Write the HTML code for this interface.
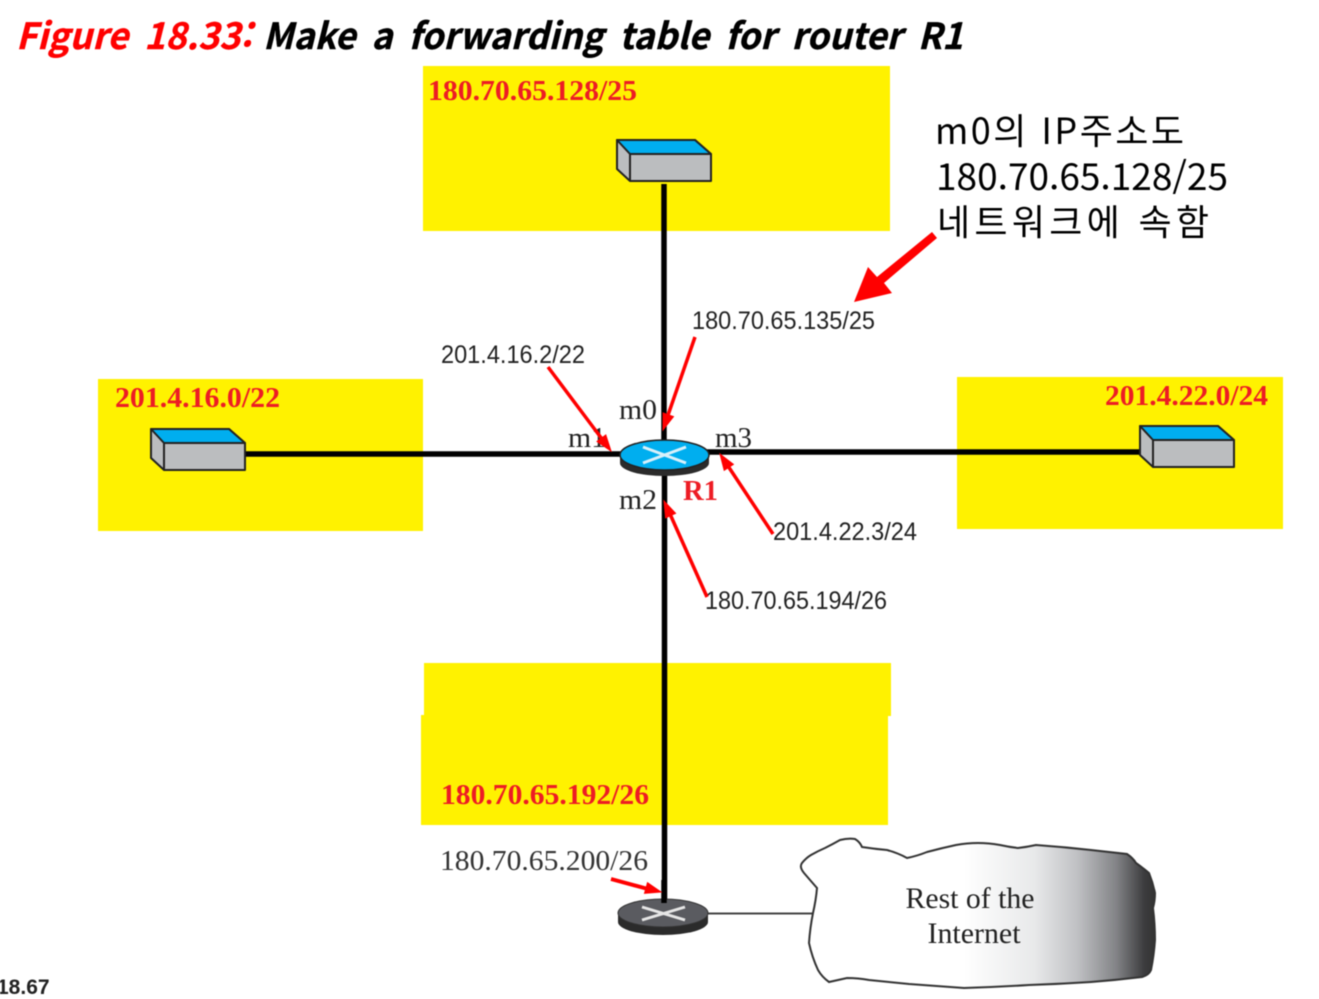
<!DOCTYPE html>
<html lang="ko">
<head>
<meta charset="utf-8">
<title>Figure 18.33</title>
<style>
html,body{margin:0;padding:0;background:#fff;width:1319px;height:999px;overflow:hidden}
svg{display:block;filter:blur(.45px)}
.ser{font-family:"Liberation Serif",serif}
.net{font-family:"Liberation Serif",serif;font-weight:bold;fill:#ED1C24;font-size:29px}
.ip{font-family:"Liberation Sans",sans-serif;fill:#222;font-size:25px}
.m{font-family:"Liberation Serif",serif;fill:#222;font-size:29px}
.ko{font-family:"Noto Sans CJK KR","Liberation Sans",sans-serif;fill:#000;font-size:36px}
.ttl{font-family:"Noto Sans CJK KR","Liberation Sans",sans-serif;font-style:italic;font-weight:bold;font-size:36px;word-spacing:6px}
</style>
</head>
<body>
<svg width="1319" height="999" viewBox="0 0 1319 999" xmlns="http://www.w3.org/2000/svg">
<defs>
<linearGradient id="cg" x1="0" y1="0" x2="1" y2="0">
<stop offset="0" stop-color="#fff"/>
<stop offset="0.46" stop-color="#fff"/>
<stop offset="0.66" stop-color="#e8e9ea"/>
<stop offset="0.78" stop-color="#c0c1c4"/>
<stop offset="0.89" stop-color="#838487"/>
<stop offset="0.97" stop-color="#3c3c3e"/>
<stop offset="1" stop-color="#333"/>
</linearGradient>
<g id="sw">
<path d="M0 0H78L94 14V41H13L0 29Z" fill="#bbbdbf" stroke="#222" stroke-width="2" stroke-linejoin="round"/>
<path d="M0 0H78L94 14H13Z" fill="#00AEEF" stroke="#222" stroke-width="2" stroke-linejoin="round"/>
<path d="M13 14V41" stroke="#222" stroke-width="2"/>
</g>
</defs>

<rect x="423" y="66" width="467" height="165" fill="#FFF200"/>
<rect x="98" y="379" width="325" height="152" fill="#FFF200"/>
<rect x="957" y="377" width="326" height="152" fill="#FFF200"/>
<rect x="424" y="663" width="467" height="53" fill="#FFF200"/>
<rect x="421" y="715" width="467" height="110" fill="#FFF200"/>

<text class="ttl" x="16" y="49" fill="#FF0000" stroke="#FF0000" stroke-width=".4" textLength="236" lengthAdjust="spacingAndGlyphs">Figure 18.33:</text>
<text class="ttl" x="263" y="49" fill="#000" stroke="#000" stroke-width=".4" textLength="700" lengthAdjust="spacingAndGlyphs">Make a forwarding table for router R1</text>

<text class="net" x="428" y="100" textLength="209" lengthAdjust="spacingAndGlyphs">180.70.65.128/25</text>
<text class="net" x="115" y="407" textLength="165" lengthAdjust="spacingAndGlyphs">201.4.16.0/22</text>
<text class="net" x="1105" y="405" textLength="163" lengthAdjust="spacingAndGlyphs">201.4.22.0/24</text>
<text class="net" x="441" y="804" textLength="208" lengthAdjust="spacingAndGlyphs">180.70.65.192/26</text>

<!-- links -->
<path d="M664 184V440" stroke="#000" stroke-width="5.500"/>
<path d="M245 454H622" stroke="#000" stroke-width="5.500"/>
<path d="M706 452H1142" stroke="#000" stroke-width="5.500"/>
<path d="M664.500 470V902" stroke="#000" stroke-width="5.500"/>
<path d="M706 913.500H815" stroke="#444" stroke-width="2"/>

<use href="#sw" x="617" y="140"/>
<use href="#sw" x="151" y="429"/>
<use href="#sw" x="1140" y="426"/>

<!-- R1 -->
<path d="M620 455V463A44.500 13 0 0 0 709 463V455Z" fill="#2b2b2b"/>
<ellipse cx="664.500" cy="455" rx="44.500" ry="15" fill="#00AEEF" stroke="#222" stroke-width="1.500"/>
<path d="M643 447L686 463M643 463L686 447" stroke="#d8f0fa" stroke-width="3"/>

<!-- Lower router -->
<path d="M618 914V922A45 13 0 0 0 708 922V914Z" fill="#2b2b2b"/>
<ellipse cx="663" cy="913" rx="45" ry="14" fill="#5a5b60" stroke="#333" stroke-width="1"/>
<path d="M642 907L685 920M642 920L685 907" stroke="#e6e6e6" stroke-width="3"/>
<path d="M664 880V903" stroke="#000" stroke-width="5.500"/>

<!-- cloud -->
<path d="M804 873Q799 867 802 863Q806 858 811 855Q818 851 825 848Q833 844 840 840Q848 838 855 839Q860 842 862 847Q875 849 887 850Q898 853 907 858Q917 856 927 852Q942 848 956 845Q967 843 978 843Q989 843 1000 845Q1009 847 1018 848Q1027 847 1036 845Q1064 847 1091 850Q1109 852 1127 854Q1133 858 1136 863Q1143 868 1149 873Q1153 883 1155 893Q1155 901 1153 908Q1155 924 1155 940Q1154 955 1151 970Q1149 975 1142 977Q1117 980 1091 982Q1060 984 1029 985Q997 987 964 988Q937 986 909 984Q889 982 869 980Q858 978 847 978Q838 980 829 982Q822 977 818 970Q812 957 809 943Q810 928 813 913Q816 900 817 888Q810 880 804 873Z" fill="url(#cg)" stroke="#333" stroke-width="2"/>
<text class="ser" x="970" y="908" text-anchor="middle" font-size="30" fill="#222" textLength="129" lengthAdjust="spacingAndGlyphs">Rest of the</text>
<text class="ser" x="974" y="943" text-anchor="middle" font-size="30" fill="#222" textLength="93" lengthAdjust="spacingAndGlyphs">Internet</text>

<text class="m" x="619" y="419" textLength="38" lengthAdjust="spacingAndGlyphs">m0</text>
<text class="m" x="568" y="447" textLength="38" lengthAdjust="spacingAndGlyphs">m1</text>
<text class="m" x="619" y="509" textLength="38" lengthAdjust="spacingAndGlyphs">m2</text>
<text class="m" x="715" y="447" textLength="37" lengthAdjust="spacingAndGlyphs">m3</text>
<text class="ser" x="683" y="500" font-size="29" font-weight="bold" fill="#ED1C24" textLength="35" lengthAdjust="spacingAndGlyphs">R1</text>

<text class="ip" x="692" y="329" textLength="183" lengthAdjust="spacingAndGlyphs">180.70.65.135/25</text>
<text class="ip" x="441" y="363" textLength="144" lengthAdjust="spacingAndGlyphs">201.4.16.2/22</text>
<text class="ip" x="773" y="540" textLength="144" lengthAdjust="spacingAndGlyphs">201.4.22.3/24</text>
<text class="ip" x="705" y="609" textLength="182" lengthAdjust="spacingAndGlyphs">180.70.65.194/26</text>
<text class="ser" x="440" y="870" font-size="29" fill="#333" textLength="208" lengthAdjust="spacingAndGlyphs">180.70.65.200/26</text>

<!-- red arrows -->
<g stroke="#FF0000" stroke-width="3.500" fill="none">
<path d="M695 337L667 418"/>
<path d="M548 367L602 439"/>
<path d="M773 534L728 466"/>
<path d="M707 597L670 514"/>
<path d="M611 879L648 889" stroke-width="4"/>
</g>
<g fill="#FF0000" stroke="#FF0000" stroke-width="1">
<path d="M663 430L673.500 416.600L663.100 413Z"/>
<path d="M611 451L605.800 434.900L597 441.500Z"/>
<path d="M720 454L733.400 464.300L724.200 470.300Z"/>
<path d="M664 501L675.600 513.300L665.600 517.900Z"/>
<path d="M661 892L644.500 893.300L647.500 882.700Z"/>
<path d="M932 232L937 238L884 283L892 293L854 302L868 267L877 277Z" stroke="none"/>
</g>

<text class="ko" x="935" y="144" textLength="249" lengthAdjust="spacing">m0의 IP주소도</text>
<text class="ko" x="936" y="190" textLength="292" lengthAdjust="spacingAndGlyphs">180.70.65.128/25</text>
<text class="ko" x="937" y="235" textLength="272" lengthAdjust="spacing">네트워크에 속함</text>

<text x="-3" y="994" font-family="'Liberation Sans',sans-serif" font-weight="bold" font-size="21" fill="#222">18.67</text>
</svg>
</body>
</html>
